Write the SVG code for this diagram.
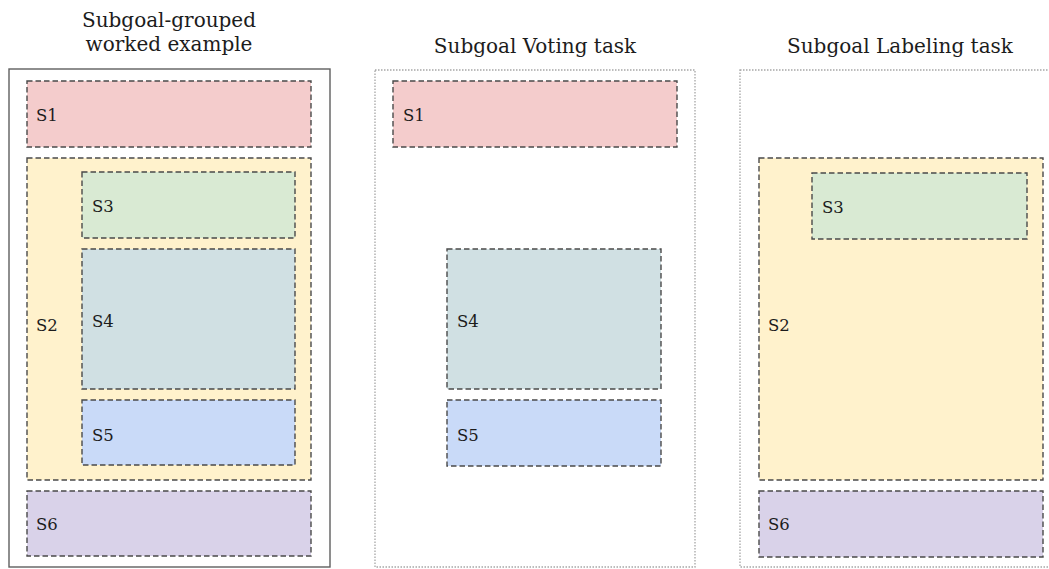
<svg xmlns="http://www.w3.org/2000/svg" width="1049" height="569" viewBox="0 0 1049 569">
  <style>
    .title { font-family: "DejaVu Serif", "Liberation Serif", serif; font-size: 20px; fill: #1c1c1c; text-anchor: middle; }
    .lbl { font-family: "DejaVu Serif", "Liberation Serif", serif; font-size: 16.5px; fill: #1c1c1c; }
    .panel-solid { fill: #ffffff; stroke: #5f5f5f; stroke-width: 1.4; }
    .panel-dot { fill: #ffffff; stroke: #a6a6a6; stroke-width: 1.3; stroke-dasharray: 1.5 1.5; }
    .step { stroke: #4a4a4a; stroke-width: 1.4; stroke-dasharray: 5.5 3; }
    .s1 { fill: #f4cccc; }
    .s2 { fill: #fff2cc; }
    .s3 { fill: #d9ead3; }
    .s4 { fill: #d0e0e3; }
    .s5 { fill: #c9daf8; }
    .s6 { fill: #d9d2e9; }
  </style>
  <rect width="1049" height="569" fill="#ffffff"/>

  <!-- Column 1: full worked example -->
  <g id="grouped">
    <text class="title" x="169" y="27">Subgoal-grouped</text>
    <text class="title" x="169" y="51">worked example</text>
    <rect class="panel-solid" x="9" y="69" width="321" height="498"/>
    <g id="g-s1"><rect class="step s1" x="27" y="81" width="284" height="66"/><text class="lbl" x="36" y="121">S1</text></g>
    <g id="g-s2"><rect class="step s2" x="27" y="158" width="284" height="322"/><text class="lbl" x="36" y="331">S2</text></g>
    <g id="g-s3"><rect class="step s3" x="82" y="172" width="213" height="66"/><text class="lbl" x="92" y="212">S3</text></g>
    <g id="g-s4"><rect class="step s4" x="82" y="249" width="213" height="140"/><text class="lbl" x="92" y="327">S4</text></g>
    <g id="g-s5"><rect class="step s5" x="82" y="400" width="213" height="65"/><text class="lbl" x="92" y="441">S5</text></g>
    <g id="g-s6"><rect class="step s6" x="27" y="491" width="284" height="65"/><text class="lbl" x="36" y="530">S6</text></g>
  </g>

  <!-- Column 2: voting task -->
  <g id="voting">
    <text class="title" x="535" y="53">Subgoal Voting task</text>
    <rect class="panel-dot" x="375" y="70" width="320" height="497"/>
    <g id="v-s1"><rect class="step s1" x="393" y="81" width="284" height="66"/><text class="lbl" x="403" y="121">S1</text></g>
    <g id="v-s4"><rect class="step s4" x="447" y="249" width="214" height="140"/><text class="lbl" x="457" y="327">S4</text></g>
    <g id="v-s5"><rect class="step s5" x="447" y="400" width="214" height="66"/><text class="lbl" x="457" y="441">S5</text></g>
  </g>

  <!-- Column 3: labeling task -->
  <g id="labeling">
    <text class="title" x="900" y="53">Subgoal Labeling task</text>
    <rect class="panel-dot" x="740" y="70" width="321" height="497"/>
    <g id="l-s2"><rect class="step s2" x="759" y="158" width="284" height="322"/><text class="lbl" x="768" y="331">S2</text></g>
    <g id="l-s3"><rect class="step s3" x="812" y="173" width="215" height="66"/><text class="lbl" x="822" y="213">S3</text></g>
    <g id="l-s6"><rect class="step s6" x="759" y="491" width="284" height="66"/><text class="lbl" x="768" y="530">S6</text></g>
  </g>

  <g id="connectors"></g>
</svg>
